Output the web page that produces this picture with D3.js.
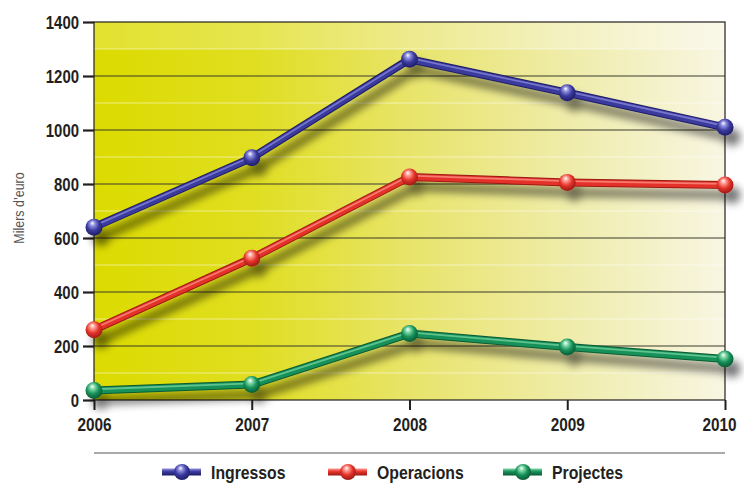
<!DOCTYPE html>
<html>
<head>
<meta charset="utf-8">
<script src="https://cdn.jsdelivr.net/npm/d3@7"></script>
<style>
  body { margin: 0; background: #fff; }
  svg text { font-family: "Liberation Sans", Arial, sans-serif; font-weight: bold; fill: #231f20; }
</style>
</head>
<body>
<svg id="chart"></svg>
<script>
// chart data
const years = [2006, 2007, 2008, 2009, 2010];
const ingressos = [640, 897, 1262, 1138, 1010];
const operacions = [260, 525, 826, 806, 796];
const projectes = [35, 57, 246, 196, 152];
const yTicks = [0, 200, 400, 600, 800, 1000, 1200, 1400];
const seriesNames = ["Ingressos", "Operacions", "Projectes"];
const seriesColors = [
    { base: "#3b3a9e", light: "#8f8fe0", dark: "#1e1d66" },
    { base: "#e4332b", light: "#ff9a8f", dark: "#9c1a14" },
    { base: "#16915a", light: "#7fd8a6", dark: "#0a5a33" }
];

const width = 744, height = 489;
const plotLeft = 94, plotRight = 725, plotTop = 22, plotBottom = 400;

const svg = d3.select("#chart").attr("width", width).attr("height", height);
const defs = svg.append("defs");

// background gradient of the plot
const bg = defs.append("linearGradient").attr("id", "bg").attr("x1", 0).attr("x2", 1).attr("y1", 0).attr("y2", 0);
bg.append("stop").attr("offset", "0%").attr("stop-color", "#dcdb00");
bg.append("stop").attr("offset", "25%").attr("stop-color", "#e0de20");
bg.append("stop").attr("offset", "50%").attr("stop-color", "#e8e46a");
bg.append("stop").attr("offset", "75%").attr("stop-color", "#efecaa");
bg.append("stop").attr("offset", "100%").attr("stop-color", "#f8f6e2");

const topBand = defs.append("linearGradient").attr("id", "topband").attr("x1", 0).attr("x2", 1);
topBand.append("stop").attr("offset", "0%").attr("stop-color", "#fff").attr("stop-opacity", 0.18);
topBand.append("stop").attr("offset", "100%").attr("stop-color", "#fff").attr("stop-opacity", 0.3);

// shadow filter for lines
const shadow = defs.append("filter").attr("id", "shadow").attr("x", "-20%").attr("y", "-20%").attr("width", "140%").attr("height", "160%");
shadow.append("feGaussianBlur").attr("in", "SourceAlpha").attr("stdDeviation", 4).attr("result", "blur");
shadow.append("feOffset").attr("in", "blur").attr("dx", 7).attr("dy", 10).attr("result", "off");
shadow.append("feComponentTransfer").attr("in", "off").attr("result", "sh")
    .append("feFuncA").attr("type", "linear").attr("slope", 0.55);
const merge = shadow.append("feMerge");
merge.append("feMergeNode").attr("in", "sh");
merge.append("feMergeNode").attr("in", "SourceGraphic");

// sphere gradients
seriesColors.forEach((c, i) => {
    const g = defs.append("radialGradient").attr("id", "ball" + i)
        .attr("cx", "45%").attr("cy", "40%").attr("r", "60%").attr("fx", "40%").attr("fy", "25%");
    g.append("stop").attr("offset", "0%").attr("stop-color", "#fff");
    g.append("stop").attr("offset", "25%").attr("stop-color", c.light);
    g.append("stop").attr("offset", "60%").attr("stop-color", c.base);
    g.append("stop").attr("offset", "100%").attr("stop-color", c.dark);
    const t = defs.append("linearGradient").attr("id", "tube" + i).attr("x1", 0).attr("x2", 0).attr("y1", 0).attr("y2", 1);
    t.append("stop").attr("offset", "0%").attr("stop-color", c.light);
    t.append("stop").attr("offset", "45%").attr("stop-color", c.base);
    t.append("stop").attr("offset", "100%").attr("stop-color", c.dark);
});

const x = d3.scalePoint().domain(years).range([plotLeft, plotRight]);
const y = d3.scaleLinear().domain([0, 1400]).range([plotBottom, plotTop]);

// plot background
svg.append("rect").attr("x", plotLeft).attr("y", plotTop).attr("width", plotRight - plotLeft).attr("height", plotBottom - plotTop).attr("fill", "url(#bg)");
svg.append("rect").attr("x", plotLeft).attr("y", plotTop).attr("width", plotRight - plotLeft).attr("height", y(1300) - plotTop).attr("fill", "url(#topband)");

// faint white minor lines
svg.append("g").selectAll("line").data(d3.range(100, 1400, 200)).join("line")
    .attr("x1", plotLeft).attr("x2", plotRight).attr("y1", d => y(d)).attr("y2", d => y(d))
    .attr("stroke", "#fff").attr("stroke-opacity", 0.5).attr("stroke-width", 1);

// grid lines
svg.append("g").selectAll("line").data(yTicks.slice(1, -1)).join("line")
    .attr("x1", plotLeft).attr("x2", plotRight).attr("y1", d => y(d)).attr("y2", d => y(d))
    .attr("stroke", "#3a3a2a").attr("stroke-width", 1);

// frame
svg.append("rect").attr("x", plotLeft).attr("y", plotTop).attr("width", plotRight - plotLeft).attr("height", plotBottom - plotTop)
    .attr("fill", "none").attr("stroke", "#231f20").attr("stroke-width", 1.2);

// y axis
const yAxis = svg.append("g").attr("transform", `translate(${plotLeft},0)`)
    .call(d3.axisLeft(y).tickValues(yTicks).tickFormat(d3.format("d")).tickSize(11).tickPadding(4));
yAxis.select(".domain").remove();
yAxis.attr("font-family", null).attr("font-size", null);
yAxis.selectAll(".tick line").attr("stroke", "#231f20").attr("stroke-width", 2.2);
yAxis.selectAll(".tick text").attr("font-size", 18).attr("dy", "0.35em");

// x axis
const xAxis = svg.append("g").attr("transform", `translate(0,${plotBottom})`)
    .call(d3.axisBottom(x).tickFormat(d3.format("d")).tickSize(10).tickPadding(7));
xAxis.select(".domain").remove();
xAxis.attr("font-family", null).attr("font-size", null);
xAxis.selectAll(".tick line").attr("stroke", "#231f20").attr("stroke-width", 2);
xAxis.selectAll(".tick text").attr("font-size", 18.5).attr("dy", "0.75em");
// last label sits a bit to the left in the original
xAxis.selectAll(".tick text").filter(d => d === years[years.length - 1]).attr("x", -6);

// y label
svg.append("text").attr("transform", "translate(24,208) rotate(-90)").attr("text-anchor", "middle")
    .style("font-weight", "normal").style("fill", "#555").attr("font-size", 15).text("Milers d\u2019euro");

// series
const allSeries = [ingressos, operacions, projectes];
const line = d3.line().x((d, i) => x(years[i])).y(d => y(d));
allSeries.forEach((vals, i) => {
    const c = seriesColors[i];
    const g = svg.append("g").attr("filter", "url(#shadow)");
    g.append("path").attr("d", line(vals)).attr("fill", "none")
        .attr("stroke", c.dark).attr("stroke-width", 8).attr("stroke-linejoin", "round");
    g.append("path").attr("d", line(vals)).attr("fill", "none")
        .attr("stroke", c.base).attr("stroke-width", 6).attr("stroke-linejoin", "round");
    g.append("path").attr("d", line(vals)).attr("fill", "none").attr("transform", "translate(0,-1.3)")
        .attr("stroke", c.light).attr("stroke-opacity", 0.7).attr("stroke-width", 1.8).attr("stroke-linejoin", "round");
    g.selectAll("circle").data(vals).join("circle")
        .attr("cx", (d, j) => x(years[j])).attr("cy", d => y(d)).attr("r", 8.5)
        .attr("fill", `url(#ball${i})`);
});

// separator line
svg.append("line").attr("x1", plotLeft).attr("x2", plotRight).attr("y1", 453).attr("y2", 453)
    .attr("stroke", "#555").attr("stroke-width", 1.2);

// legend
const legendX = [162, 328, 503];
seriesNames.forEach((name, i) => {
    const g = svg.append("g").attr("transform", `translate(${legendX[i]},472)`);
    g.append("rect").attr("x", 0).attr("y", -3.5).attr("width", 39).attr("height", 7).attr("fill", `url(#tube${i})`);
    g.append("circle").attr("cx", 20).attr("cy", 0).attr("r", 8).attr("fill", `url(#ball${i})`);
    g.append("text").attr("x", 49).attr("y", 0).attr("dy", "0.36em").attr("font-size", 19).text(name);
});

// condense the text like the narrow face of the original
svg.selectAll("text").each(function () {
    const len = this.getComputedTextLength();
    d3.select(this).attr("textLength", len * 0.83).attr("lengthAdjust", "spacingAndGlyphs");
});
</script>
</body>
</html>
